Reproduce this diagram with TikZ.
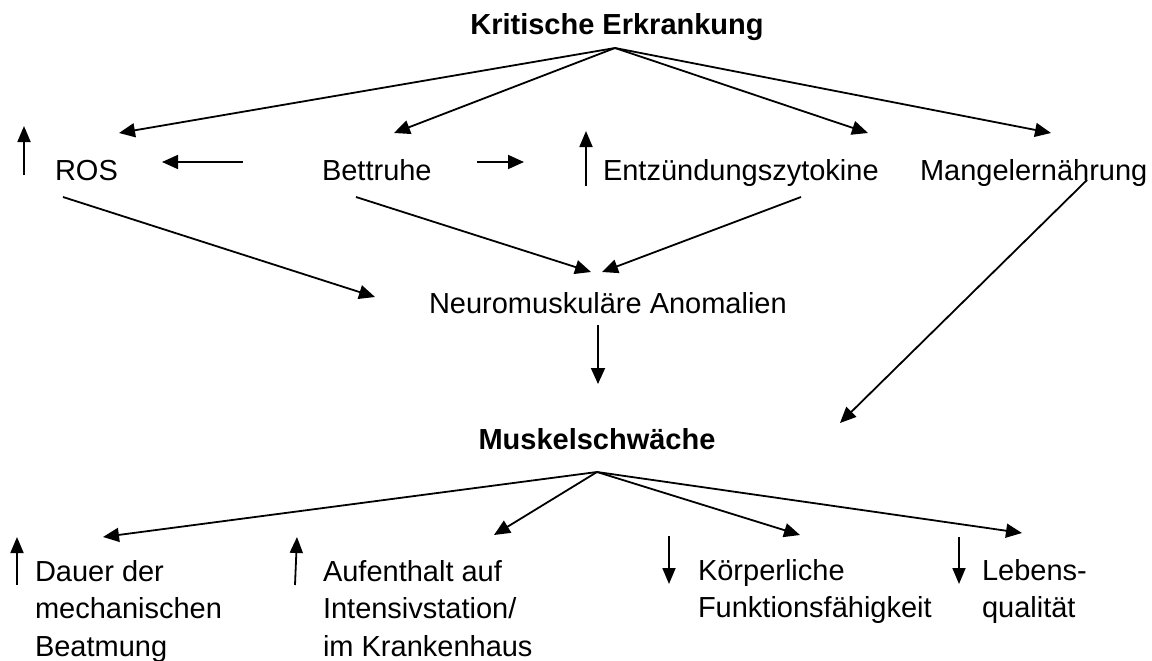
\documentclass[tikz,border=0pt]{standalone}
\usepackage{fontspec}
\setmainfont{Liberation Sans}
\usetikzlibrary{arrows.meta}

\tikzset{
  lbl/.style={inner sep=0pt, outer sep=0pt, align=left, font=\fontsize{29}{37.5}\selectfont},
  head/.style={lbl, font=\fontsize{29}{37.5}\selectfont\bfseries},
  arr/.style={line width=1.8pt, -{Triangle[length=16pt,width=14pt]}},
  ind/.style={line width=1.8pt, -{Triangle[length=16pt,width=13pt]}}
}

\begin{document}
\begin{tikzpicture}[x=1pt,y=-1pt]
\useasboundingbox (0,0) rectangle (1152,661);

% main labels (multi-line labels are placed by the baseline of their last line)
\node[head, anchor=base] (krit) at (617,35) {Kritische Erkrankung};
\node[lbl, anchor=base west] (ros)    at (55,180)  {ROS};
\node[lbl, anchor=base west] (bett)   at (322,180) {Bettruhe};
\node[lbl, anchor=base west] (entz)   at (603,180) {Entzündungszytokine};
\node[lbl, anchor=base west] (mangel) at (920,180) {Mangelernährung};
\node[lbl, anchor=base west] (neuro)  at (429,313) {Neuromuskuläre Anomalien};
\node[head, anchor=base] (muskel) at (597,449) {Muskelschwäche};
\node[lbl, anchor=base west] (dauer)  at (35,656)  {Dauer der\\mechanischen\\Beatmung};
\node[lbl, anchor=base west] (aufent) at (323,656) {Aufenthalt auf\\Intensivstation/\\im Krankenhaus};
\node[lbl, anchor=base west] (koerp)  at (698,617.5) {Körperliche\\Funktionsfähigkeit};
\node[lbl, anchor=base west] (leben)  at (982,617.5) {Lebens-\\qualität};

% connector end points
\coordinate (krit-out) at (615,48);
\coordinate (ros-in)   at (119,133);
\coordinate (bett-in)  at (394,133);
\coordinate (entz-in)  at (868,133);
\coordinate (mang-in)  at (1051,133);
\coordinate (bett-l)   at (243,162);
\coordinate (ros-r)    at (162,162);
\coordinate (bett-r)   at (477,162);
\coordinate (entz-l)   at (524,162);
\coordinate (ros-out)  at (63,197);
\coordinate (bett-out) at (356,197);
\coordinate (entz-out) at (801,197);
\coordinate (mang-out) at (1087,180);
\coordinate (neuro-a)  at (375,297);
\coordinate (neuro-b)  at (591,272);
\coordinate (neuro-c)  at (602,272);
\coordinate (neuro-out) at (598,325);
\coordinate (musk-in)  at (598,384);
\coordinate (musk-r)   at (840,423);
\coordinate (musk-out) at (597,472);
\coordinate (dauer-in) at (103,537);
\coordinate (aufent-in) at (494,535);
\coordinate (koerp-in) at (800,535);
\coordinate (leben-in) at (1022,533);

% causes
\draw[arr] (krit-out) -- (ros-in);
\draw[arr] (krit-out) -- (bett-in);
\draw[arr] (krit-out) -- (entz-in);
\draw[arr] (krit-out) -- (mang-in);
\draw[arr] (bett-l) -- (ros-r);
\draw[arr] (bett-r) -- (entz-l);
\draw[arr] (ros-out) -- (neuro-a);
\draw[arr] (bett-out) -- (neuro-b);
\draw[arr] (entz-out) -- (neuro-c);
\draw[arr] (mang-out) -- (musk-r);
\draw[arr] (neuro-out) -- (musk-in);

% consequences
\draw[arr] (musk-out) -- (dauer-in);
\draw[arr] (musk-out) -- (aufent-in);
\draw[arr] (musk-out) -- (koerp-in);
\draw[arr] (musk-out) -- (leben-in);

% increase / decrease markers
\coordinate (up1a) at (24,175);  \coordinate (up1b) at (24,126);
\coordinate (up2a) at (586,186); \coordinate (up2b) at (586,131);
\coordinate (up3a) at (17,585);  \coordinate (up3b) at (17,537);
\coordinate (up4a) at (295,585); \coordinate (up4b) at (297,537);
\coordinate (dn1a) at (669,536); \coordinate (dn1b) at (669,584);
\coordinate (dn2a) at (959,537); \coordinate (dn2b) at (959,584);
\draw[ind] (up1a) -- (up1b);
\draw[ind] (up2a) -- (up2b);
\draw[ind] (up3a) -- (up3b);
\draw[ind] (up4a) -- (up4b);
\draw[ind] (dn1a) -- (dn1b);
\draw[ind] (dn2a) -- (dn2b);
\end{tikzpicture}
\end{document}
